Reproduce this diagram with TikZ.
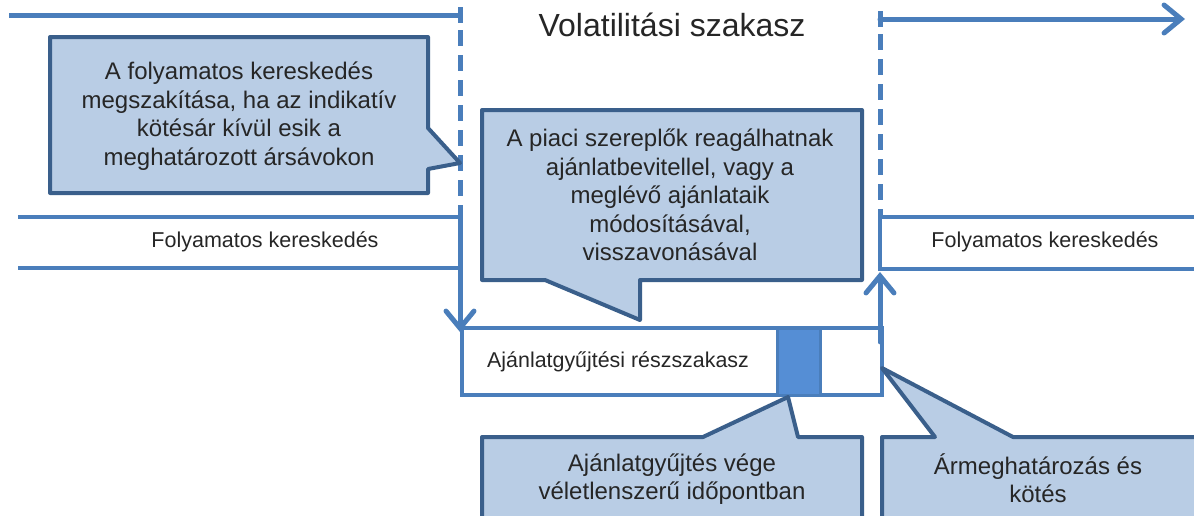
\documentclass[tikz,border=0pt]{standalone}
\usepackage{fontspec}
\setmainfont{Liberation Sans}
\usetikzlibrary{arrows.meta}
\definecolor{lineblue}{HTML}{4A7EBB}
\definecolor{calloutfill}{HTML}{B9CDE5}
\definecolor{calloutdraw}{HTML}{3A5F8B}
\definecolor{blockblue}{HTML}{558ED5}
\definecolor{txt}{HTML}{262626}
\begin{document}
\begin{tikzpicture}[x=1pt,y=-1pt,
  timeline/.style={draw=lineblue, line width=5pt},
  bandline/.style={draw=lineblue, line width=4pt},
  dashline/.style={draw=lineblue, line width=5pt, dash pattern=on 16pt off 9pt},
  callout/.style={draw=calloutdraw, fill=calloutfill, line width=4pt, line join=round},
  calltext/.style={align=center, font=\fontsize{24}{28.5}\selectfont, text=txt, inner sep=0pt},
  bandtext/.style={font=\fontsize{21.5}{25}\selectfont, text=txt, inner sep=0pt},
  boxtext/.style={font=\fontsize{21.4}{25}\selectfont, text=txt, inner sep=0pt, anchor=west},
  titletext/.style={font=\fontsize{32}{38}\selectfont, text=txt, inner sep=0pt},
  barb/.style={-{Straight Barb[length=17pt,width=28pt,line cap=round]}, line cap=round}
]
\useasboundingbox (0,0) rectangle (1194,515);
\clip (0,0) rectangle (1194,515);

% coordinates
\coordinate (tlstart) at (9,15);
\coordinate (tlend) at (460,15);
\coordinate (tickAt) at (460,7);
\coordinate (tickAb) at (460,23);
\coordinate (dashAtop) at (460,30);
\coordinate (dashAbot) at (460,215);
\coordinate (arrAtip) at (460,332);
\coordinate (trstart) at (880,19);
\coordinate (trend) at (1185,19);
\coordinate (tickBt) at (880,11);
\coordinate (tickBb) at (880,27);
\coordinate (dashBtop) at (880,34);
\coordinate (dashBbot) at (880,215);
\coordinate (arrBbase) at (880,342);
\coordinate (arrBtip) at (880,272);

% timelines
\draw[timeline] (tlstart) -- (tlend);
\draw[timeline] (tickAt) -- (tickAb);
\draw[timeline, barb] (trstart) -- (trend);
\draw[timeline] (tickBt) -- (tickBb);
\draw[dashline] (dashAtop) -- (dashAbot);
\draw[dashline] (dashBtop) -- (dashBbot);

\node[titletext] (title) at (672,25) {Volatilitási szakasz};

% left band
\draw[bandline] (18,217) -- (460,217);
\draw[bandline] (18,268) -- (460,268);
\node[bandtext] (bandL) at (265,242) {Folyamatos kereskedés};

% right band
\draw[bandline] (1200,217) -- (880,217) -- (880,269) -- (1200,269);
\node[bandtext] (bandR) at (1045,242) {Folyamatos kereskedés};

% bottom box
\draw[bandline, fill=white] (462,328) rectangle (882,395);
\draw[draw=lineblue, line width=3pt, fill=blockblue] (777,328) rectangle (820,395);
\node[boxtext] (gyujt) at (487,362) {Ajánlatgyűjtési részszakasz};

% arrows
\draw[timeline, barb] (dashAbot) -- (arrAtip);
\draw[timeline, barb] (arrBbase) -- (arrBtip);

% callouts
\draw[callout] (50,37) -- (428,37) -- (428,128) -- (460,163) -- (428,169) -- (428,193) -- (50,193) -- cycle;
\node[calltext] (c1) at (239,116) {A folyamatos kereskedés\\megszakítása, ha az indikatív\\kötésár kívül esik a\\meghatározott ársávokon};

\draw[callout] (482,110) -- (862,110) -- (862,280) -- (640,280) -- (640,320) -- (545,280) -- (482,280) -- cycle;
\node[calltext] (c2) at (670,195) {A piaci szereplők reagálhatnak\\ajánlatbevitellel, vagy a\\meglévő ajánlataik\\módosításával,\\visszavonásával};

\draw[callout] (482,437) -- (703,437) -- (788,397) -- (798,437) -- (862,437) -- (862,540) -- (482,540) -- cycle;
\node[calltext] (c3) at (672,479) {Ajánlatgyűjtés vége\\véletlenszerű időpontban};

\draw[callout] (882,437) -- (935,437) -- (882,368) -- (1013,437) -- (1210,437) -- (1210,540) -- (882,540) -- cycle;
\node[calltext] (c4) at (1038,478) {Ármeghatározás és\\kötés};
\end{tikzpicture}
\end{document}
